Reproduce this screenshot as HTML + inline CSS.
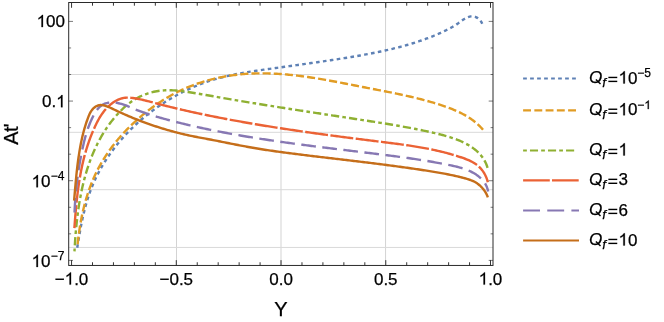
<!DOCTYPE html>
<html><head><meta charset="utf-8"><title>plot</title>
<style>html,body{margin:0;padding:0;background:#fff;}svg{display:block;will-change:transform;}text{font-family:"Liberation Sans",sans-serif;fill:#000;stroke:#000;stroke-width:0.25px;}</style></head><body>
<svg width="664" height="322" viewBox="0 0 664 322">
<rect x="0" y="0" width="664" height="322" fill="#fff"/>
<g stroke-width="1" fill="none">
<line x1="176.50" y1="2.5" x2="176.50" y2="265.45" stroke="#d3d3d3"/>
<line x1="281.00" y1="2.5" x2="281.00" y2="265.45" stroke="#d3d3d3"/>
<line x1="385.55" y1="2.5" x2="385.55" y2="265.45" stroke="#d3d3d3"/>
<line x1="68.7" y1="74.5" x2="493.0" y2="74.5" stroke="#d9d9d9"/>
<line x1="68.7" y1="132.3" x2="493.0" y2="132.3" stroke="#d9d9d9"/>
<line x1="68.7" y1="189.7" x2="493.0" y2="189.7" stroke="#d9d9d9"/>
<line x1="68.7" y1="247.45" x2="493.0" y2="247.45" stroke="#d9d9d9"/>
</g>
<g fill="none" stroke-width="2.4" stroke-linejoin="round" stroke-linecap="butt">
<path d="M77.15,248.18 L77.39,246.72 L77.63,245.26 L77.87,243.80 L78.11,242.33 L78.36,240.86 L78.61,239.39 L78.86,237.92 L79.11,236.45 L79.36,234.97 L79.62,233.50 L79.89,232.02 L80.16,230.54 L80.43,229.07 L80.71,227.59 L80.99,226.12 L81.28,224.64 L81.57,223.16 L81.87,221.69 L82.18,220.22 L82.49,218.74 L82.81,217.27 L83.14,215.80 L83.48,214.34 L83.83,212.87 L84.18,211.41 L84.54,209.95 L84.92,208.49 L85.30,207.04 L85.69,205.59 L86.09,204.14 L86.51,202.69 L86.93,201.25 L87.37,199.82 L87.82,198.38 L88.28,196.96 L88.75,195.53 L89.23,194.11 L89.73,192.70 L90.24,191.29 L90.77,189.89 L91.31,188.49 L91.86,187.10 L92.42,185.71 L93.00,184.33 L93.60,182.96 L94.20,181.59 L94.82,180.23 L95.45,178.87 L96.10,177.52 L96.75,176.18 L97.42,174.84 L98.10,173.51 L98.80,172.18 L99.51,170.86 L100.22,169.55 L100.95,168.24 L101.70,166.94 L102.45,165.65 L103.22,164.36 L103.99,163.08 L104.78,161.81 L105.58,160.54 L106.39,159.29 L107.21,158.03 L108.05,156.79 L108.89,155.55 L109.74,154.32 L110.61,153.10 L111.48,151.88 L112.37,150.67 L113.26,149.47 L114.17,148.28 L115.08,147.09 L116.01,145.91 L116.94,144.74 L117.89,143.58 L118.84,142.42 L119.81,141.27 L120.78,140.13 L121.76,139.00 L122.75,137.88 L123.75,136.76 L124.76,135.65 L125.78,134.55 L126.81,133.46 L127.85,132.37 L128.89,131.29 L129.94,130.23 L131.00,129.17 L132.07,128.11 L133.15,127.07 L134.24,126.03 L135.33,125.00 L136.44,123.99 L137.55,122.97 L138.66,121.97 L139.79,120.98 L140.92,119.99 L142.06,119.01 L143.21,118.04 L144.36,117.08 L145.53,116.13 L146.69,115.19 L147.87,114.25 L149.05,113.33 L150.24,112.41 L151.44,111.50 L152.64,110.60 L153.85,109.71 L155.07,108.83 L156.29,107.96 L157.51,107.10 L158.75,106.24 L159.99,105.40 L161.23,104.56 L162.49,103.73 L163.74,102.91 L165.01,102.10 L166.27,101.30 L167.55,100.51 L168.83,99.73 L170.11,98.96 L171.41,98.20 L172.70,97.45 L174.00,96.70 L175.31,95.97 L176.62,95.25 L177.94,94.54 L179.26,93.83 L180.59,93.14 L181.92,92.45 L183.26,91.78 L184.60,91.12 L185.95,90.46 L187.30,89.82 L188.65,89.19 L190.01,88.57 L191.38,87.95 L192.75,87.35 L194.12,86.76 L195.50,86.18 L196.88,85.61 L198.27,85.05 L199.66,84.50 L201.05,83.97 L202.45,83.44 L203.86,82.92 L205.26,82.42 L206.67,81.92 L208.09,81.44 L209.51,80.97 L210.93,80.51 L212.35,80.06 L213.78,79.62 L215.21,79.19 L216.65,78.78 L218.09,78.37 L219.53,77.98 L220.98,77.59 L222.43,77.22 L223.88,76.86 L225.33,76.50 L226.79,76.16 L228.25,75.82 L229.71,75.50 L231.17,75.18 L232.64,74.87 L234.11,74.56 L235.58,74.27 L237.05,73.98 L238.53,73.70 L240.01,73.43 L241.48,73.16 L242.96,72.89 L244.44,72.64 L245.93,72.39 L247.41,72.14 L248.90,71.90 L250.38,71.66 L251.87,71.43 L253.36,71.20 L254.84,70.97 L256.33,70.75 L257.82,70.53 L259.31,70.31 L260.80,70.10 L262.29,69.89 L263.78,69.68 L265.27,69.47 L266.76,69.26 L268.25,69.05 L269.74,68.85 L271.23,68.64 L272.72,68.43 L274.21,68.23 L275.70,68.02 L277.19,67.82 L278.67,67.61 L280.16,67.40 L281.65,67.20 L283.13,66.99 L284.62,66.79 L286.10,66.58 L287.59,66.38 L289.07,66.17 L290.56,65.97 L292.04,65.76 L293.53,65.55 L295.01,65.35 L296.49,65.14 L297.98,64.94 L299.46,64.73 L300.94,64.52 L302.43,64.31 L303.91,64.10 L305.39,63.90 L306.87,63.69 L308.36,63.48 L309.84,63.27 L311.32,63.05 L312.80,62.84 L314.28,62.63 L315.76,62.42 L317.24,62.20 L318.72,61.99 L320.21,61.77 L321.69,61.56 L323.17,61.34 L324.65,61.12 L326.13,60.91 L327.61,60.69 L329.09,60.47 L330.57,60.24 L332.05,60.02 L333.53,59.80 L335.01,59.57 L336.49,59.35 L337.97,59.12 L339.45,58.89 L340.93,58.66 L342.41,58.43 L343.89,58.19 L345.37,57.96 L346.85,57.72 L348.33,57.48 L349.81,57.24 L351.29,56.99 L352.77,56.75 L354.25,56.50 L355.72,56.24 L357.20,55.99 L358.68,55.73 L360.16,55.47 L361.63,55.21 L363.11,54.94 L364.58,54.67 L366.06,54.40 L367.53,54.12 L369.01,53.84 L370.48,53.56 L371.95,53.27 L373.43,52.98 L374.90,52.68 L376.37,52.39 L377.84,52.08 L379.31,51.77 L380.78,51.46 L382.25,51.15 L383.71,50.83 L385.18,50.50 L386.65,50.17 L388.11,49.84 L389.58,49.50 L391.04,49.15 L392.50,48.80 L393.96,48.45 L395.42,48.08 L396.88,47.72 L398.34,47.35 L399.79,46.97 L401.25,46.58 L402.70,46.19 L404.15,45.80 L405.60,45.39 L407.04,44.98 L408.48,44.57 L409.92,44.14 L411.36,43.71 L412.80,43.27 L414.23,42.83 L415.66,42.38 L417.09,41.92 L418.51,41.45 L419.93,40.97 L421.35,40.49 L422.76,40.00 L424.17,39.50 L425.57,38.99 L426.98,38.47 L428.38,37.95 L429.77,37.42 L431.16,36.87 L432.55,36.32 L433.93,35.76 L435.31,35.19 L436.68,34.61 L438.05,34.02 L439.41,33.42 L440.77,32.81 L442.12,32.19 L443.47,31.56 L444.82,30.92 L446.15,30.27 L447.49,29.61 L448.81,28.94 L450.14,28.24 L451.45,27.53 L452.76,26.79 L454.06,26.02 L455.36,25.22 L456.65,24.38 L457.94,23.51 L459.22,22.60 L460.49,21.67 L461.77,20.75 L463.05,19.86 L464.33,19.02 L465.63,18.25 L466.94,17.58 L468.26,17.04 L469.61,16.64 L470.97,16.41 L472.35,16.37 L473.73,16.50 L475.09,16.84 L476.41,17.37 L477.68,18.10 L478.87,19.03 L479.98,20.15 L480.98,21.44 L481.85,22.91 L482.57,24.54" stroke="#5E81B5" stroke-dasharray="3.6 3.362" stroke-dashoffset="-0.4"/>
<path d="M77.62,244.40 L77.77,242.92 L77.93,241.45 L78.09,239.97 L78.26,238.49 L78.44,237.01 L78.63,235.53 L78.83,234.05 L79.03,232.57 L79.24,231.09 L79.46,229.61 L79.69,228.13 L79.92,226.65 L80.17,225.17 L80.42,223.70 L80.68,222.22 L80.95,220.74 L81.23,219.27 L81.52,217.80 L81.82,216.33 L82.12,214.86 L82.44,213.39 L82.77,211.92 L83.10,210.46 L83.45,209.00 L83.81,207.54 L84.17,206.09 L84.55,204.63 L84.93,203.18 L85.33,201.74 L85.74,200.29 L86.16,198.85 L86.59,197.42 L87.03,195.99 L87.48,194.56 L87.94,193.13 L88.42,191.72 L88.90,190.30 L89.40,188.89 L89.91,187.48 L90.43,186.08 L90.96,184.69 L91.51,183.30 L92.06,181.91 L92.63,180.53 L93.22,179.16 L93.81,177.79 L94.42,176.43 L95.04,175.07 L95.67,173.72 L96.32,172.38 L96.98,171.05 L97.65,169.72 L98.34,168.39 L99.04,167.08 L99.75,165.77 L100.48,164.47 L101.21,163.18 L101.97,161.89 L102.73,160.61 L103.51,159.34 L104.30,158.07 L105.10,156.81 L105.91,155.56 L106.73,154.32 L107.57,153.08 L108.42,151.85 L109.28,150.63 L110.15,149.42 L111.03,148.21 L111.92,147.01 L112.82,145.82 L113.74,144.64 L114.66,143.46 L115.60,142.29 L116.54,141.13 L117.50,139.98 L118.46,138.84 L119.44,137.70 L120.42,136.57 L121.41,135.45 L122.42,134.33 L123.43,133.22 L124.45,132.13 L125.48,131.03 L126.52,129.95 L127.56,128.88 L128.62,127.81 L129.68,126.75 L130.75,125.70 L131.83,124.66 L132.92,123.62 L134.02,122.60 L135.12,121.58 L136.23,120.57 L137.34,119.57 L138.47,118.58 L139.60,117.59 L140.74,116.62 L141.88,115.65 L143.03,114.69 L144.19,113.74 L145.35,112.79 L146.52,111.86 L147.70,110.94 L148.88,110.02 L150.07,109.11 L151.27,108.22 L152.47,107.33 L153.68,106.45 L154.90,105.58 L156.12,104.73 L157.35,103.88 L158.58,103.04 L159.82,102.21 L161.07,101.40 L162.32,100.59 L163.58,99.80 L164.85,99.01 L166.12,98.24 L167.40,97.48 L168.69,96.73 L169.98,95.99 L171.28,95.26 L172.58,94.55 L173.90,93.84 L175.21,93.15 L176.54,92.47 L177.87,91.80 L179.20,91.15 L180.55,90.51 L181.90,89.88 L183.25,89.26 L184.61,88.65 L185.98,88.06 L187.35,87.47 L188.73,86.90 L190.12,86.34 L191.51,85.80 L192.90,85.26 L194.30,84.74 L195.71,84.23 L197.12,83.73 L198.54,83.25 L199.96,82.77 L201.39,82.31 L202.82,81.86 L204.26,81.43 L205.70,81.00 L207.15,80.59 L208.60,80.18 L210.05,79.79 L211.51,79.41 L212.97,79.05 L214.43,78.69 L215.90,78.35 L217.37,78.02 L218.84,77.70 L220.32,77.39 L221.80,77.09 L223.28,76.81 L224.76,76.54 L226.24,76.28 L227.72,76.03 L229.21,75.79 L230.70,75.56 L232.18,75.34 L233.67,75.14 L235.16,74.95 L236.65,74.77 L238.14,74.60 L239.63,74.44 L241.12,74.29 L242.61,74.15 L244.10,74.03 L245.59,73.92 L247.07,73.81 L248.56,73.72 L250.05,73.64 L251.54,73.56 L253.02,73.50 L254.51,73.45 L256.00,73.41 L257.49,73.38 L258.97,73.35 L260.46,73.34 L261.94,73.34 L263.43,73.34 L264.92,73.36 L266.40,73.38 L267.89,73.41 L269.37,73.45 L270.86,73.50 L272.34,73.56 L273.83,73.62 L275.31,73.69 L276.79,73.78 L278.28,73.86 L279.76,73.96 L281.25,74.06 L282.73,74.17 L284.21,74.29 L285.69,74.42 L287.18,74.55 L288.66,74.69 L290.14,74.83 L291.62,74.98 L293.11,75.14 L294.59,75.31 L296.07,75.48 L297.55,75.65 L299.03,75.83 L300.51,76.02 L301.99,76.21 L303.47,76.41 L304.95,76.61 L306.43,76.82 L307.91,77.03 L309.39,77.25 L310.87,77.47 L312.35,77.70 L313.83,77.93 L315.31,78.16 L316.79,78.40 L318.27,78.64 L319.74,78.89 L321.22,79.14 L322.70,79.39 L324.18,79.65 L325.66,79.91 L327.13,80.17 L328.61,80.43 L330.09,80.70 L331.56,80.97 L333.04,81.24 L334.52,81.52 L335.99,81.79 L337.47,82.07 L338.95,82.35 L340.42,82.63 L341.90,82.92 L343.37,83.20 L344.85,83.49 L346.32,83.77 L347.80,84.06 L349.27,84.35 L350.75,84.64 L352.22,84.93 L353.70,85.22 L355.17,85.51 L356.64,85.80 L358.12,86.09 L359.59,86.38 L361.07,86.67 L362.54,86.96 L364.01,87.25 L365.48,87.53 L366.96,87.82 L368.43,88.11 L369.90,88.39 L371.37,88.68 L372.85,88.96 L374.32,89.24 L375.79,89.53 L377.26,89.81 L378.73,90.10 L380.20,90.38 L381.67,90.67 L383.14,90.95 L384.61,91.24 L386.08,91.53 L387.54,91.82 L389.01,92.11 L390.48,92.41 L391.94,92.70 L393.41,93.00 L394.87,93.30 L396.33,93.60 L397.79,93.90 L399.26,94.21 L400.72,94.52 L402.18,94.84 L403.63,95.15 L405.09,95.47 L406.55,95.80 L408.00,96.13 L409.46,96.46 L410.91,96.79 L412.36,97.13 L413.82,97.48 L415.26,97.83 L416.71,98.18 L418.16,98.54 L419.61,98.91 L421.05,99.28 L422.49,99.66 L423.94,100.04 L425.38,100.43 L426.82,100.82 L428.25,101.22 L429.69,101.63 L431.12,102.04 L432.56,102.46 L433.99,102.89 L435.42,103.33 L436.84,103.77 L438.27,104.22 L439.69,104.68 L441.12,105.14 L442.54,105.61 L443.95,106.10 L445.37,106.59 L446.78,107.09 L448.19,107.60 L449.59,108.13 L450.99,108.67 L452.38,109.22 L453.76,109.78 L455.14,110.36 L456.51,110.96 L457.86,111.57 L459.21,112.20 L460.55,112.85 L461.88,113.52 L463.19,114.21 L464.49,114.91 L465.78,115.64 L467.05,116.40 L468.31,117.17 L469.56,117.97 L470.79,118.80 L472.00,119.65 L473.19,120.53 L474.36,121.43 L475.52,122.37 L476.66,123.33 L477.77,124.32 L478.87,125.34 L479.94,126.40 L480.99,127.48 L482.02,128.60 L483.02,129.76" stroke="#E19C24" stroke-dasharray="8.1 3.064" stroke-dashoffset="0.25"/>
<path d="M74.48,251.34 L74.56,249.89 L74.64,248.43 L74.72,246.97 L74.81,245.50 L74.90,244.04 L75.00,242.57 L75.09,241.10 L75.20,239.62 L75.30,238.14 L75.41,236.66 L75.53,235.18 L75.65,233.70 L75.77,232.22 L75.90,230.73 L76.03,229.24 L76.17,227.75 L76.32,226.26 L76.46,224.77 L76.62,223.28 L76.78,221.79 L76.94,220.29 L77.12,218.80 L77.29,217.30 L77.48,215.81 L77.67,214.32 L77.86,212.82 L78.06,211.33 L78.27,209.83 L78.49,208.34 L78.71,206.85 L78.94,205.35 L79.18,203.86 L79.42,202.37 L79.68,200.88 L79.94,199.39 L80.20,197.91 L80.48,196.42 L80.76,194.94 L81.05,193.46 L81.35,191.98 L81.66,190.50 L81.98,189.02 L82.30,187.55 L82.64,186.08 L82.98,184.61 L83.33,183.15 L83.69,181.69 L84.06,180.23 L84.44,178.77 L84.83,177.32 L85.23,175.87 L85.64,174.43 L86.06,172.98 L86.49,171.55 L86.93,170.11 L87.38,168.68 L87.84,167.26 L88.31,165.84 L88.79,164.42 L89.29,163.01 L89.79,161.60 L90.31,160.20 L90.83,158.80 L91.37,157.41 L91.92,156.03 L92.48,154.65 L93.06,153.27 L93.64,151.90 L94.24,150.54 L94.85,149.18 L95.48,147.83 L96.11,146.49 L96.76,145.15 L97.42,143.82 L98.10,142.49 L98.78,141.17 L99.48,139.86 L100.20,138.56 L100.93,137.26 L101.67,135.97 L102.42,134.69 L103.19,133.42 L103.97,132.15 L104.77,130.89 L105.58,129.64 L106.41,128.40 L107.25,127.17 L108.11,125.94 L108.98,124.73 L109.86,123.52 L110.76,122.32 L111.68,121.13 L112.61,119.95 L113.56,118.78 L114.52,117.62 L115.50,116.47 L116.50,115.33 L117.51,114.20 L118.53,113.08 L119.58,111.97 L120.64,110.87 L121.72,109.80 L122.81,108.74 L123.92,107.70 L125.05,106.68 L126.19,105.68 L127.35,104.71 L128.53,103.76 L129.73,102.85 L130.94,101.96 L132.18,101.10 L133.42,100.28 L134.69,99.49 L135.97,98.73 L137.27,98.00 L138.58,97.30 L139.91,96.64 L141.25,96.01 L142.61,95.41 L143.97,94.84 L145.35,94.31 L146.74,93.81 L148.14,93.34 L149.55,92.90 L150.97,92.50 L152.40,92.12 L153.84,91.79 L155.29,91.48 L156.74,91.21 L158.20,90.97 L159.67,90.76 L161.14,90.59 L162.61,90.44 L164.09,90.34 L165.58,90.26 L167.07,90.22 L168.56,90.21 L170.05,90.22 L171.54,90.26 L173.04,90.33 L174.54,90.42 L176.04,90.53 L177.55,90.66 L179.05,90.81 L180.55,90.98 L182.06,91.16 L183.56,91.36 L185.06,91.57 L186.57,91.79 L188.07,92.01 L189.57,92.25 L191.07,92.49 L192.57,92.74 L194.06,92.99 L195.55,93.24 L197.04,93.49 L198.53,93.74 L200.01,94.00 L201.50,94.25 L202.98,94.51 L204.46,94.76 L205.94,95.02 L207.41,95.28 L208.89,95.53 L210.36,95.79 L211.84,96.05 L213.31,96.30 L214.78,96.56 L216.25,96.82 L217.73,97.08 L219.20,97.33 L220.67,97.59 L222.14,97.84 L223.61,98.10 L225.08,98.35 L226.55,98.61 L228.03,98.86 L229.50,99.11 L230.97,99.36 L232.45,99.61 L233.92,99.86 L235.40,100.11 L236.87,100.36 L238.35,100.61 L239.82,100.86 L241.30,101.11 L242.78,101.35 L244.25,101.60 L245.73,101.84 L247.21,102.09 L248.69,102.33 L250.17,102.58 L251.64,102.82 L253.12,103.06 L254.60,103.30 L256.08,103.54 L257.56,103.78 L259.04,104.02 L260.52,104.26 L262.00,104.50 L263.48,104.74 L264.96,104.98 L266.45,105.22 L267.93,105.46 L269.41,105.69 L270.89,105.93 L272.37,106.16 L273.85,106.40 L275.34,106.64 L276.82,106.87 L278.30,107.10 L279.79,107.34 L281.27,107.57 L282.75,107.80 L284.23,108.04 L285.72,108.27 L287.20,108.50 L288.69,108.73 L290.17,108.96 L291.65,109.20 L293.14,109.43 L294.62,109.66 L296.10,109.89 L297.59,110.12 L299.07,110.35 L300.56,110.58 L302.04,110.81 L303.52,111.03 L305.01,111.26 L306.49,111.49 L307.98,111.72 L309.46,111.95 L310.94,112.17 L312.43,112.40 L313.91,112.63 L315.40,112.86 L316.88,113.08 L318.36,113.31 L319.85,113.54 L321.33,113.76 L322.82,113.99 L324.30,114.22 L325.78,114.44 L327.27,114.67 L328.75,114.89 L330.23,115.12 L331.71,115.34 L333.20,115.57 L334.68,115.80 L336.16,116.02 L337.64,116.25 L339.13,116.47 L340.61,116.70 L342.09,116.92 L343.57,117.15 L345.05,117.37 L346.53,117.60 L348.01,117.82 L349.49,118.05 L350.97,118.28 L352.45,118.50 L353.93,118.73 L355.41,118.95 L356.89,119.18 L358.37,119.40 L359.85,119.63 L361.33,119.85 L362.80,120.08 L364.28,120.31 L365.76,120.53 L367.24,120.76 L368.71,120.99 L370.19,121.22 L371.67,121.44 L373.14,121.67 L374.62,121.90 L376.09,122.13 L377.57,122.36 L379.04,122.60 L380.52,122.83 L381.99,123.07 L383.47,123.30 L384.94,123.54 L386.42,123.78 L387.89,124.02 L389.37,124.27 L390.84,124.51 L392.31,124.76 L393.79,125.01 L395.26,125.26 L396.74,125.51 L398.21,125.77 L399.68,126.03 L401.16,126.29 L402.63,126.55 L404.11,126.82 L405.58,127.08 L407.06,127.36 L408.53,127.63 L410.01,127.91 L411.48,128.19 L412.96,128.47 L414.43,128.76 L415.91,129.05 L417.38,129.34 L418.86,129.64 L420.33,129.94 L421.81,130.25 L423.29,130.56 L424.76,130.87 L426.24,131.19 L427.72,131.51 L429.19,131.84 L430.67,132.17 L432.15,132.50 L433.63,132.84 L435.11,133.19 L436.59,133.54 L438.06,133.89 L439.54,134.26 L441.01,134.63 L442.48,135.01 L443.95,135.40 L445.41,135.81 L446.86,136.22 L448.31,136.65 L449.76,137.10 L451.19,137.56 L452.62,138.03 L454.04,138.52 L455.44,139.03 L456.84,139.56 L458.23,140.11 L459.61,140.68 L460.97,141.27 L462.32,141.88 L463.66,142.52 L464.98,143.19 L466.28,143.87 L467.57,144.59 L468.85,145.33 L470.10,146.10 L471.34,146.90 L472.55,147.73 L473.74,148.60 L474.90,149.50 L476.03,150.43 L477.12,151.40 L478.19,152.40 L479.22,153.45 L480.21,154.53 L481.16,155.66 L482.07,156.82 L482.94,158.03 L483.76,159.29 L484.53,160.59 L485.24,161.93 L485.91,163.33 L486.52,164.77 L487.08,166.27 L487.57,167.82" stroke="#8FB032" stroke-dasharray="3.6 3.16 8.2 3.21" stroke-dashoffset="0.78"/>
<path d="M74.37,228.09 L74.48,226.58 L74.60,225.07 L74.71,223.56 L74.83,222.06 L74.94,220.55 L75.06,219.04 L75.18,217.54 L75.30,216.04 L75.43,214.53 L75.56,213.03 L75.69,211.53 L75.82,210.03 L75.96,208.54 L76.10,207.04 L76.24,205.55 L76.39,204.05 L76.54,202.56 L76.69,201.07 L76.85,199.58 L77.01,198.09 L77.18,196.61 L77.35,195.12 L77.53,193.64 L77.71,192.16 L77.90,190.68 L78.10,189.20 L78.30,187.72 L78.50,186.24 L78.72,184.77 L78.94,183.30 L79.16,181.83 L79.39,180.36 L79.63,178.89 L79.88,177.43 L80.13,175.96 L80.39,174.50 L80.66,173.04 L80.94,171.58 L81.23,170.12 L81.52,168.67 L81.82,167.22 L82.14,165.77 L82.46,164.32 L82.79,162.87 L83.12,161.43 L83.47,159.98 L83.83,158.54 L84.20,157.10 L84.58,155.67 L84.97,154.23 L85.37,152.80 L85.78,151.37 L86.20,149.94 L86.63,148.52 L87.07,147.09 L87.53,145.67 L88.00,144.25 L88.48,142.84 L88.97,141.42 L89.47,140.01 L89.99,138.60 L90.52,137.19 L91.06,135.79 L91.61,134.39 L92.18,132.99 L92.76,131.59 L93.36,130.19 L93.97,128.80 L94.59,127.41 L95.23,126.03 L95.89,124.65 L96.56,123.29 L97.25,121.93 L97.97,120.59 L98.70,119.26 L99.46,117.96 L100.24,116.67 L101.05,115.40 L101.88,114.16 L102.74,112.94 L103.62,111.75 L104.54,110.58 L105.48,109.45 L106.46,108.36 L107.47,107.30 L108.51,106.27 L109.59,105.29 L110.70,104.34 L111.85,103.44 L113.04,102.59 L114.27,101.78 L115.53,101.02 L116.84,100.32 L118.18,99.68 L119.55,99.11 L120.95,98.62 L122.38,98.22 L123.84,97.92 L125.31,97.72 L126.80,97.62 L128.30,97.62 L129.81,97.69 L131.33,97.83 L132.84,98.02 L134.35,98.24 L135.85,98.49 L137.34,98.75 L138.83,99.04 L140.30,99.35 L141.77,99.67 L143.23,100.00 L144.69,100.35 L146.15,100.71 L147.60,101.07 L149.04,101.45 L150.49,101.83 L151.93,102.21 L153.37,102.60 L154.81,102.98 L156.25,103.37 L157.69,103.75 L159.14,104.13 L160.58,104.51 L162.03,104.88 L163.47,105.26 L164.92,105.62 L166.37,105.99 L167.82,106.35 L169.27,106.71 L170.72,107.07 L172.17,107.43 L173.62,107.78 L175.07,108.13 L176.53,108.48 L177.98,108.82 L179.44,109.16 L180.89,109.50 L182.35,109.84 L183.81,110.18 L185.27,110.51 L186.73,110.84 L188.19,111.17 L189.65,111.49 L191.11,111.82 L192.57,112.14 L194.03,112.46 L195.49,112.78 L196.96,113.09 L198.42,113.40 L199.88,113.71 L201.35,114.02 L202.81,114.33 L204.28,114.63 L205.74,114.94 L207.21,115.24 L208.68,115.54 L210.14,115.84 L211.61,116.13 L213.08,116.43 L214.54,116.72 L216.01,117.01 L217.48,117.30 L218.95,117.58 L220.41,117.87 L221.88,118.15 L223.35,118.44 L224.82,118.72 L226.29,118.99 L227.76,119.27 L229.23,119.55 L230.70,119.82 L232.17,120.09 L233.64,120.36 L235.11,120.63 L236.58,120.90 L238.06,121.17 L239.53,121.43 L241.00,121.69 L242.47,121.96 L243.94,122.22 L245.42,122.47 L246.89,122.73 L248.36,122.99 L249.84,123.24 L251.31,123.49 L252.78,123.75 L254.26,124.00 L255.73,124.25 L257.21,124.49 L258.68,124.74 L260.16,124.98 L261.63,125.23 L263.11,125.47 L264.58,125.71 L266.06,125.95 L267.54,126.19 L269.01,126.43 L270.49,126.66 L271.97,126.90 L273.44,127.13 L274.92,127.36 L276.40,127.59 L277.87,127.82 L279.35,128.05 L280.83,128.28 L282.31,128.51 L283.79,128.73 L285.26,128.96 L286.74,129.18 L288.22,129.40 L289.70,129.62 L291.18,129.84 L292.66,130.06 L294.14,130.28 L295.62,130.50 L297.10,130.71 L298.58,130.93 L300.06,131.14 L301.54,131.36 L303.02,131.57 L304.50,131.78 L305.98,131.99 L307.46,132.20 L308.94,132.41 L310.42,132.62 L311.90,132.83 L313.39,133.03 L314.87,133.24 L316.35,133.44 L317.83,133.65 L319.31,133.85 L320.79,134.05 L322.28,134.26 L323.76,134.46 L325.24,134.66 L326.72,134.86 L328.21,135.06 L329.69,135.25 L331.17,135.45 L332.66,135.65 L334.14,135.85 L335.62,136.04 L337.11,136.24 L338.59,136.43 L340.07,136.63 L341.56,136.82 L343.04,137.01 L344.52,137.20 L346.01,137.40 L347.49,137.59 L348.98,137.78 L350.46,137.97 L351.95,138.16 L353.43,138.35 L354.91,138.54 L356.40,138.73 L357.88,138.92 L359.37,139.10 L360.85,139.29 L362.34,139.48 L363.82,139.67 L365.31,139.85 L366.79,140.04 L368.28,140.23 L369.76,140.41 L371.25,140.60 L372.73,140.78 L374.22,140.97 L375.70,141.15 L377.19,141.34 L378.68,141.52 L380.16,141.70 L381.65,141.89 L383.13,142.07 L384.62,142.26 L386.10,142.44 L387.59,142.63 L389.07,142.82 L390.56,143.00 L392.04,143.19 L393.53,143.38 L395.01,143.58 L396.49,143.77 L397.98,143.97 L399.46,144.17 L400.94,144.37 L402.42,144.58 L403.90,144.78 L405.38,144.99 L406.86,145.21 L408.34,145.42 L409.82,145.65 L411.30,145.87 L412.78,146.10 L414.25,146.33 L415.73,146.57 L417.20,146.81 L418.67,147.06 L420.15,147.32 L421.62,147.57 L423.09,147.84 L424.55,148.11 L426.02,148.38 L427.49,148.66 L428.95,148.95 L430.42,149.24 L431.88,149.54 L433.34,149.85 L434.80,150.17 L436.26,150.49 L437.72,150.82 L439.17,151.15 L440.62,151.50 L442.08,151.85 L443.53,152.21 L444.98,152.58 L446.42,152.96 L447.87,153.35 L449.31,153.74 L450.75,154.15 L452.19,154.56 L453.63,154.98 L455.07,155.42 L456.50,155.86 L457.93,156.32 L459.36,156.78 L460.79,157.25 L462.21,157.74 L463.64,158.24 L465.05,158.75 L466.45,159.29 L467.85,159.85 L469.22,160.44 L470.57,161.07 L471.89,161.74 L473.19,162.45 L474.46,163.20 L475.69,164.01 L476.88,164.88 L478.02,165.80 L479.13,166.80 L480.18,167.85 L481.18,168.97 L482.12,170.15 L483.01,171.37 L483.84,172.64 L484.61,173.95 L485.32,175.29 L485.96,176.66 L486.54,178.06 L487.04,179.47 L487.47,180.90 L487.83,182.33" stroke="#EB6235" stroke-dasharray="23.0 2.479" stroke-dashoffset="0.0"/>
<path d="M74.54,212.49 L74.61,211.00 L74.67,209.51 L74.75,208.02 L74.83,206.53 L74.91,205.03 L75.00,203.54 L75.10,202.04 L75.20,200.55 L75.31,199.05 L75.43,197.56 L75.55,196.06 L75.67,194.56 L75.81,193.07 L75.94,191.57 L76.09,190.08 L76.24,188.58 L76.39,187.08 L76.56,185.59 L76.72,184.09 L76.90,182.60 L77.08,181.11 L77.26,179.61 L77.45,178.12 L77.65,176.63 L77.86,175.14 L78.06,173.65 L78.28,172.16 L78.50,170.67 L78.73,169.19 L78.96,167.70 L79.20,166.22 L79.44,164.74 L79.69,163.26 L79.95,161.78 L80.21,160.31 L80.48,158.83 L80.75,157.36 L81.03,155.89 L81.32,154.42 L81.61,152.96 L81.91,151.50 L82.21,150.04 L82.52,148.58 L82.84,147.12 L83.16,145.67 L83.49,144.22 L83.83,142.77 L84.18,141.33 L84.54,139.89 L84.92,138.45 L85.30,137.01 L85.71,135.58 L86.12,134.15 L86.56,132.72 L87.01,131.29 L87.48,129.87 L87.96,128.45 L88.47,127.03 L89.00,125.61 L89.55,124.20 L90.12,122.79 L90.72,121.38 L91.35,119.98 L92.00,118.58 L92.67,117.18 L93.38,115.79 L94.12,114.42 L94.89,113.07 L95.71,111.77 L96.57,110.51 L97.47,109.32 L98.43,108.19 L99.44,107.15 L100.52,106.19 L101.65,105.34 L102.85,104.60 L104.11,103.97 L105.44,103.47 L106.81,103.07 L108.23,102.78 L109.68,102.59 L111.15,102.49 L112.64,102.48 L114.13,102.55 L115.61,102.70 L117.09,102.92 L118.55,103.21 L120.01,103.55 L121.45,103.95 L122.89,104.40 L124.32,104.88 L125.74,105.40 L127.16,105.95 L128.58,106.52 L129.99,107.11 L131.40,107.70 L132.81,108.30 L134.22,108.89 L135.62,109.48 L137.03,110.05 L138.44,110.61 L139.86,111.15 L141.27,111.68 L142.69,112.20 L144.10,112.70 L145.52,113.19 L146.94,113.67 L148.36,114.14 L149.79,114.60 L151.21,115.05 L152.63,115.49 L154.06,115.93 L155.49,116.36 L156.92,116.78 L158.35,117.19 L159.79,117.60 L161.22,118.00 L162.66,118.40 L164.09,118.80 L165.53,119.19 L166.97,119.58 L168.42,119.97 L169.86,120.35 L171.31,120.74 L172.75,121.11 L174.20,121.49 L175.65,121.86 L177.10,122.23 L178.55,122.59 L180.00,122.95 L181.46,123.31 L182.91,123.67 L184.37,124.02 L185.82,124.37 L187.28,124.71 L188.74,125.06 L190.20,125.40 L191.66,125.74 L193.12,126.07 L194.59,126.40 L196.05,126.73 L197.51,127.06 L198.98,127.38 L200.45,127.71 L201.91,128.02 L203.38,128.34 L204.85,128.65 L206.32,128.96 L207.79,129.27 L209.26,129.58 L210.73,129.88 L212.20,130.18 L213.67,130.48 L215.14,130.78 L216.61,131.07 L218.09,131.36 L219.56,131.65 L221.03,131.93 L222.51,132.22 L223.98,132.50 L225.46,132.78 L226.93,133.05 L228.41,133.33 L229.88,133.60 L231.36,133.87 L232.83,134.14 L234.31,134.40 L235.79,134.67 L237.27,134.93 L238.74,135.19 L240.22,135.45 L241.70,135.70 L243.18,135.96 L244.66,136.21 L246.14,136.46 L247.62,136.70 L249.10,136.95 L250.58,137.19 L252.06,137.44 L253.54,137.68 L255.02,137.92 L256.50,138.15 L257.98,138.39 L259.46,138.62 L260.94,138.85 L262.43,139.08 L263.91,139.31 L265.39,139.54 L266.87,139.76 L268.36,139.99 L269.84,140.21 L271.32,140.43 L272.81,140.65 L274.29,140.87 L275.78,141.09 L277.26,141.30 L278.74,141.52 L280.23,141.73 L281.71,141.94 L283.20,142.15 L284.68,142.36 L286.17,142.57 L287.66,142.77 L289.14,142.98 L290.63,143.18 L292.11,143.39 L293.60,143.59 L295.09,143.79 L296.57,143.99 L298.06,144.19 L299.55,144.39 L301.03,144.58 L302.52,144.78 L304.01,144.97 L305.49,145.17 L306.98,145.36 L308.47,145.55 L309.96,145.75 L311.44,145.94 L312.93,146.13 L314.42,146.32 L315.91,146.50 L317.40,146.69 L318.88,146.88 L320.37,147.07 L321.86,147.25 L323.35,147.44 L324.84,147.62 L326.32,147.81 L327.81,147.99 L329.30,148.18 L330.79,148.36 L332.28,148.54 L333.77,148.73 L335.26,148.91 L336.74,149.09 L338.23,149.27 L339.72,149.45 L341.21,149.63 L342.70,149.81 L344.19,149.99 L345.67,150.17 L347.16,150.35 L348.65,150.53 L350.14,150.71 L351.63,150.89 L353.12,151.07 L354.60,151.25 L356.09,151.43 L357.58,151.61 L359.07,151.79 L360.56,151.97 L362.05,152.15 L363.53,152.33 L365.02,152.52 L366.51,152.70 L368.00,152.88 L369.48,153.06 L370.97,153.24 L372.46,153.42 L373.95,153.60 L375.43,153.79 L376.92,153.97 L378.41,154.15 L379.89,154.34 L381.38,154.52 L382.87,154.71 L384.35,154.89 L385.84,155.08 L387.33,155.27 L388.81,155.46 L390.30,155.65 L391.79,155.84 L393.27,156.04 L394.76,156.23 L396.24,156.43 L397.73,156.62 L399.21,156.82 L400.70,157.03 L402.18,157.23 L403.67,157.43 L405.15,157.64 L406.64,157.85 L408.12,158.06 L409.61,158.27 L411.09,158.49 L412.57,158.71 L414.06,158.93 L415.54,159.15 L417.02,159.38 L418.51,159.60 L419.99,159.83 L421.47,160.07 L422.96,160.30 L424.44,160.54 L425.92,160.78 L427.40,161.03 L428.89,161.28 L430.37,161.53 L431.85,161.79 L433.33,162.04 L434.81,162.31 L436.29,162.57 L437.77,162.84 L439.26,163.11 L440.74,163.39 L442.22,163.67 L443.70,163.96 L445.18,164.24 L446.66,164.54 L448.14,164.83 L449.62,165.13 L451.09,165.44 L452.57,165.76 L454.04,166.08 L455.51,166.42 L456.97,166.78 L458.43,167.15 L459.87,167.54 L461.31,167.95 L462.74,168.39 L464.16,168.85 L465.56,169.35 L466.95,169.87 L468.32,170.43 L469.68,171.02 L471.02,171.65 L472.34,172.33 L473.64,173.04 L474.92,173.80 L476.17,174.61 L477.39,175.46 L478.58,176.37 L479.73,177.32 L480.83,178.33 L481.87,179.38 L482.86,180.49 L483.79,181.65 L484.66,182.87 L485.45,184.14 L486.16,185.48 L486.79,186.86 L487.33,188.31 L487.77,189.82 L488.12,191.39" stroke="#8778B3" stroke-dasharray="14.7 6.5" stroke-dashoffset="0.0"/>
<path d="M74.12,200.58 L74.25,199.11 L74.37,197.63 L74.50,196.15 L74.62,194.67 L74.75,193.19 L74.88,191.70 L75.00,190.21 L75.13,188.72 L75.26,187.23 L75.39,185.73 L75.53,184.24 L75.66,182.74 L75.80,181.24 L75.94,179.74 L76.09,178.24 L76.23,176.74 L76.38,175.24 L76.54,173.74 L76.70,172.24 L76.86,170.74 L77.03,169.24 L77.20,167.74 L77.37,166.25 L77.56,164.75 L77.74,163.26 L77.94,161.76 L78.13,160.27 L78.34,158.78 L78.55,157.29 L78.77,155.81 L78.99,154.33 L79.23,152.85 L79.46,151.37 L79.71,149.90 L79.97,148.43 L80.23,146.96 L80.50,145.50 L80.78,144.04 L81.07,142.58 L81.37,141.13 L81.68,139.69 L82.00,138.24 L82.33,136.80 L82.67,135.36 L83.03,133.93 L83.40,132.49 L83.78,131.06 L84.17,129.62 L84.58,128.19 L85.01,126.75 L85.45,125.31 L85.91,123.88 L86.38,122.44 L86.88,120.99 L87.39,119.55 L87.92,118.10 L88.47,116.65 L89.05,115.21 L89.69,113.79 L90.39,112.42 L91.18,111.11 L92.07,109.87 L93.06,108.72 L94.17,107.69 L95.35,106.80 L96.60,106.07 L97.89,105.53 L99.21,105.19 L100.55,105.05 L101.91,105.08 L103.28,105.26 L104.67,105.58 L106.07,106.01 L107.48,106.53 L108.89,107.12 L110.31,107.76 L111.73,108.43 L113.14,109.11 L114.55,109.78 L115.95,110.45 L117.35,111.10 L118.75,111.75 L120.14,112.39 L121.53,113.02 L122.92,113.64 L124.30,114.26 L125.68,114.86 L127.06,115.46 L128.44,116.05 L129.82,116.64 L131.19,117.21 L132.57,117.78 L133.94,118.35 L135.32,118.90 L136.69,119.45 L138.07,119.99 L139.45,120.53 L140.83,121.06 L142.21,121.58 L143.59,122.10 L144.97,122.61 L146.36,123.11 L147.75,123.61 L149.14,124.10 L150.54,124.59 L151.94,125.07 L153.35,125.55 L154.76,126.02 L156.18,126.49 L157.60,126.96 L159.02,127.41 L160.45,127.87 L161.89,128.31 L163.33,128.76 L164.77,129.19 L166.22,129.62 L167.67,130.05 L169.12,130.47 L170.58,130.88 L172.04,131.28 L173.50,131.68 L174.96,132.07 L176.42,132.46 L177.89,132.84 L179.35,133.20 L180.82,133.57 L182.29,133.92 L183.75,134.26 L185.22,134.60 L186.69,134.93 L188.15,135.25 L189.62,135.56 L191.08,135.87 L192.55,136.16 L194.01,136.46 L195.47,136.74 L196.93,137.03 L198.40,137.31 L199.86,137.58 L201.32,137.86 L202.79,138.13 L204.25,138.41 L205.71,138.68 L207.18,138.96 L208.64,139.23 L210.10,139.51 L211.57,139.79 L213.04,140.08 L214.50,140.36 L215.97,140.65 L217.44,140.94 L218.91,141.23 L220.38,141.52 L221.84,141.82 L223.31,142.11 L224.79,142.41 L226.26,142.70 L227.73,142.99 L229.20,143.29 L230.67,143.58 L232.14,143.88 L233.62,144.17 L235.09,144.46 L236.57,144.75 L238.04,145.04 L239.52,145.32 L240.99,145.61 L242.47,145.89 L243.94,146.17 L245.42,146.44 L246.90,146.72 L248.37,146.99 L249.85,147.25 L251.33,147.52 L252.80,147.77 L254.28,148.03 L255.76,148.28 L257.24,148.53 L258.72,148.77 L260.20,149.01 L261.68,149.25 L263.16,149.48 L264.64,149.71 L266.12,149.94 L267.60,150.16 L269.08,150.38 L270.56,150.60 L272.04,150.81 L273.52,151.03 L275.00,151.24 L276.49,151.45 L277.97,151.65 L279.45,151.86 L280.93,152.06 L282.42,152.26 L283.90,152.46 L285.38,152.65 L286.87,152.85 L288.35,153.04 L289.84,153.23 L291.32,153.42 L292.81,153.61 L294.29,153.80 L295.78,153.99 L297.26,154.18 L298.75,154.36 L300.24,154.55 L301.72,154.73 L303.21,154.92 L304.70,155.10 L306.18,155.28 L307.67,155.47 L309.16,155.65 L310.64,155.83 L312.13,156.01 L313.62,156.19 L315.11,156.37 L316.60,156.54 L318.08,156.72 L319.57,156.90 L321.06,157.08 L322.55,157.25 L324.04,157.43 L325.53,157.60 L327.02,157.78 L328.50,157.96 L329.99,158.13 L331.48,158.31 L332.97,158.48 L334.46,158.66 L335.95,158.83 L337.44,159.01 L338.93,159.18 L340.42,159.36 L341.90,159.53 L343.39,159.71 L344.88,159.88 L346.37,160.06 L347.86,160.23 L349.35,160.41 L350.84,160.59 L352.33,160.76 L353.81,160.94 L355.30,161.12 L356.79,161.29 L358.28,161.47 L359.77,161.65 L361.26,161.83 L362.74,162.01 L364.23,162.19 L365.72,162.37 L367.21,162.55 L368.69,162.74 L370.18,162.92 L371.67,163.10 L373.15,163.29 L374.64,163.47 L376.13,163.66 L377.61,163.85 L379.10,164.04 L380.58,164.22 L382.07,164.41 L383.55,164.61 L385.04,164.80 L386.52,164.99 L388.01,165.19 L389.49,165.38 L390.98,165.58 L392.46,165.77 L393.95,165.97 L395.43,166.17 L396.91,166.37 L398.40,166.57 L399.88,166.78 L401.36,166.98 L402.85,167.19 L404.33,167.39 L405.81,167.60 L407.30,167.81 L408.78,168.02 L410.26,168.23 L411.75,168.44 L413.23,168.66 L414.71,168.87 L416.20,169.09 L417.68,169.31 L419.16,169.52 L420.65,169.75 L422.13,169.97 L423.61,170.19 L425.09,170.42 L426.58,170.64 L428.06,170.87 L429.54,171.11 L431.02,171.34 L432.50,171.58 L433.98,171.83 L435.46,172.08 L436.94,172.33 L438.42,172.58 L439.90,172.84 L441.37,173.11 L442.85,173.38 L444.32,173.66 L445.79,173.94 L447.26,174.23 L448.73,174.52 L450.20,174.82 L451.66,175.13 L453.13,175.44 L454.59,175.76 L456.05,176.09 L457.51,176.43 L458.97,176.78 L460.42,177.13 L461.87,177.49 L463.32,177.87 L464.77,178.25 L466.22,178.64 L467.65,179.06 L469.07,179.51 L470.48,180.00 L471.86,180.54 L473.22,181.13 L474.55,181.80 L475.84,182.53 L477.10,183.35 L478.32,184.25 L479.49,185.21 L480.62,186.23 L481.69,187.31 L482.71,188.44 L483.67,189.62 L484.56,190.83 L485.39,192.09 L486.13,193.38 L486.80,194.71 L487.37,196.07 L487.84,197.46" stroke="#C56E1A"/>
</g>
<rect x="68.7" y="2.5" width="424.3" height="262.95" stroke="#2a2a2a" stroke-width="1" fill="none"/>
<g stroke="#2a2a2a" stroke-width="0.95" fill="none" stroke-linecap="butt">
<line x1="71.55" y1="265.45" x2="71.55" y2="260.15"/>
<line x1="71.55" y1="2.5" x2="71.55" y2="7.8"/>
<line x1="92.50" y1="265.45" x2="92.50" y2="262.25"/>
<line x1="92.50" y1="2.5" x2="92.50" y2="5.7"/>
<line x1="113.44" y1="265.45" x2="113.44" y2="262.25"/>
<line x1="113.44" y1="2.5" x2="113.44" y2="5.7"/>
<line x1="134.39" y1="265.45" x2="134.39" y2="262.25"/>
<line x1="134.39" y1="2.5" x2="134.39" y2="5.7"/>
<line x1="155.34" y1="265.45" x2="155.34" y2="262.25"/>
<line x1="155.34" y1="2.5" x2="155.34" y2="5.7"/>
<line x1="176.29" y1="265.45" x2="176.29" y2="260.15"/>
<line x1="176.29" y1="2.5" x2="176.29" y2="7.8"/>
<line x1="197.24" y1="265.45" x2="197.24" y2="262.25"/>
<line x1="197.24" y1="2.5" x2="197.24" y2="5.7"/>
<line x1="218.18" y1="265.45" x2="218.18" y2="262.25"/>
<line x1="218.18" y1="2.5" x2="218.18" y2="5.7"/>
<line x1="239.13" y1="265.45" x2="239.13" y2="262.25"/>
<line x1="239.13" y1="2.5" x2="239.13" y2="5.7"/>
<line x1="260.08" y1="265.45" x2="260.08" y2="262.25"/>
<line x1="260.08" y1="2.5" x2="260.08" y2="5.7"/>
<line x1="281.02" y1="265.45" x2="281.02" y2="260.15"/>
<line x1="281.02" y1="2.5" x2="281.02" y2="7.8"/>
<line x1="301.97" y1="265.45" x2="301.97" y2="262.25"/>
<line x1="301.97" y1="2.5" x2="301.97" y2="5.7"/>
<line x1="322.92" y1="265.45" x2="322.92" y2="262.25"/>
<line x1="322.92" y1="2.5" x2="322.92" y2="5.7"/>
<line x1="343.87" y1="265.45" x2="343.87" y2="262.25"/>
<line x1="343.87" y1="2.5" x2="343.87" y2="5.7"/>
<line x1="364.82" y1="265.45" x2="364.82" y2="262.25"/>
<line x1="364.82" y1="2.5" x2="364.82" y2="5.7"/>
<line x1="385.76" y1="265.45" x2="385.76" y2="260.15"/>
<line x1="385.76" y1="2.5" x2="385.76" y2="7.8"/>
<line x1="406.71" y1="265.45" x2="406.71" y2="262.25"/>
<line x1="406.71" y1="2.5" x2="406.71" y2="5.7"/>
<line x1="427.66" y1="265.45" x2="427.66" y2="262.25"/>
<line x1="427.66" y1="2.5" x2="427.66" y2="5.7"/>
<line x1="448.61" y1="265.45" x2="448.61" y2="262.25"/>
<line x1="448.61" y1="2.5" x2="448.61" y2="5.7"/>
<line x1="469.55" y1="265.45" x2="469.55" y2="262.25"/>
<line x1="469.55" y1="2.5" x2="469.55" y2="5.7"/>
<line x1="490.50" y1="265.45" x2="490.50" y2="260.15"/>
<line x1="490.50" y1="2.5" x2="490.50" y2="7.8"/>
</g>
<g stroke="#222" stroke-width="0.6" fill="none" stroke-linecap="butt">
<line x1="68.7" y1="21.40" x2="73.0" y2="21.40"/>
<line x1="493.0" y1="21.40" x2="488.7" y2="21.40"/>
<line x1="68.7" y1="47.96" x2="71.10000000000001" y2="47.96"/>
<line x1="493.0" y1="47.96" x2="490.6" y2="47.96"/>
<line x1="68.7" y1="74.51" x2="71.10000000000001" y2="74.51"/>
<line x1="493.0" y1="74.51" x2="490.6" y2="74.51"/>
<line x1="68.7" y1="101.07" x2="73.0" y2="101.07"/>
<line x1="493.0" y1="101.07" x2="488.7" y2="101.07"/>
<line x1="68.7" y1="127.62" x2="71.10000000000001" y2="127.62"/>
<line x1="493.0" y1="127.62" x2="490.6" y2="127.62"/>
<line x1="68.7" y1="154.18" x2="71.10000000000001" y2="154.18"/>
<line x1="493.0" y1="154.18" x2="490.6" y2="154.18"/>
<line x1="68.7" y1="180.73" x2="73.0" y2="180.73"/>
<line x1="493.0" y1="180.73" x2="488.7" y2="180.73"/>
<line x1="68.7" y1="207.29" x2="71.10000000000001" y2="207.29"/>
<line x1="493.0" y1="207.29" x2="490.6" y2="207.29"/>
<line x1="68.7" y1="233.84" x2="71.10000000000001" y2="233.84"/>
<line x1="493.0" y1="233.84" x2="490.6" y2="233.84"/>
<line x1="68.7" y1="260.40" x2="73.0" y2="260.40"/>
<line x1="493.0" y1="260.40" x2="488.7" y2="260.40"/>
</g>
<text x="54.77" y="284.60" font-size="17">−</text><path d="M763 0H583V1147Q518 1085 412.5 1023T223 930V1104Q374 1175 487 1276T647 1472H763Z" transform="translate(64.70,284.60) scale(0.00830,-0.00830)" fill="#000" stroke="#000" stroke-width="30.1"/><text x="74.15" y="284.60" font-size="17">.0</text>
<text x="159.51" y="284.60" font-size="17">−0.5</text>
<text x="269.21" y="284.60" font-size="17">0.0</text>
<text x="373.95" y="284.60" font-size="17">0.5</text>
<path d="M763 0H583V1147Q518 1085 412.5 1023T223 930V1104Q374 1175 487 1276T647 1472H763Z" transform="translate(478.68,284.60) scale(0.00830,-0.00830)" fill="#000" stroke="#000" stroke-width="30.1"/><text x="488.14" y="284.60" font-size="17">.0</text>
<path d="M763 0H583V1147Q518 1085 412.5 1023T223 930V1104Q374 1175 487 1276T647 1472H763Z" transform="translate(36.64,27.10) scale(0.00830,-0.00830)" fill="#000" stroke="#000" stroke-width="30.1"/><text x="46.09" y="27.10" font-size="17">00</text>
<text x="41.97" y="107.27" font-size="17">0.</text><path d="M763 0H583V1147Q518 1085 412.5 1023T223 930V1104Q374 1175 487 1276T647 1472H763Z" transform="translate(56.15,107.27) scale(0.00830,-0.00830)" fill="#000" stroke="#000" stroke-width="30.1"/>
<path d="M763 0H583V1147Q518 1085 412.5 1023T223 930V1104Q374 1175 487 1276T647 1472H763Z" transform="translate(31.59,187.33) scale(0.00830,-0.00830)" fill="#000" stroke="#000" stroke-width="30.1"/><text x="41.05" y="187.33" font-size="17">0</text>
<text x="50.80" y="180.33" font-size="12">−4</text>
<path d="M763 0H583V1147Q518 1085 412.5 1023T223 930V1104Q374 1175 487 1276T647 1472H763Z" transform="translate(31.59,267.00) scale(0.00830,-0.00830)" fill="#000" stroke="#000" stroke-width="30.1"/><text x="41.05" y="267.00" font-size="17">0</text>
<text x="50.80" y="260.00" font-size="12">−7</text>
<text x="281" y="316" font-size="20" text-anchor="middle">Y</text>
<text transform="translate(18.0,134.4) rotate(-90)" font-size="20" text-anchor="middle" letter-spacing="-0.6">At'</text>
<line x1="523.1" y1="78.5" x2="576.0" y2="78.5" stroke="#5E81B5" stroke-width="2.2" stroke-dasharray="3.75 3.25"/>
<text x="589" y="83.00" font-size="17" font-style="italic">O</text>
<line x1="595.90" y1="79.60" x2="600.50" y2="84.00" stroke="#000" stroke-width="1.45"/>
<text x="602.3" y="86.70" font-size="13.6" font-style="italic">f</text>
<rect x="608.35" y="76.75" width="8.9" height="1.4" fill="#000"/>
<rect x="608.35" y="80.70" width="8.9" height="1.4" fill="#000"/>
<path d="M763 0H583V1147Q518 1085 412.5 1023T223 930V1104Q374 1175 487 1276T647 1472H763Z" transform="translate(618.50,83.50) scale(0.00830,-0.00830)" fill="#000" stroke="#000" stroke-width="30.1"/><text x="627.95" y="83.50" font-size="17">0</text>
<text x="637.30" y="77.30" font-size="12">−5</text>
<line x1="523.1" y1="110.3" x2="576.0" y2="110.3" stroke="#E19C24" stroke-width="2.2" stroke-dasharray="7.9 3.35"/>
<text x="589" y="114.80" font-size="17" font-style="italic">O</text>
<line x1="595.90" y1="111.40" x2="600.50" y2="115.80" stroke="#000" stroke-width="1.45"/>
<text x="602.3" y="118.50" font-size="13.6" font-style="italic">f</text>
<rect x="608.35" y="108.55" width="8.9" height="1.4" fill="#000"/>
<rect x="608.35" y="112.50" width="8.9" height="1.4" fill="#000"/>
<path d="M763 0H583V1147Q518 1085 412.5 1023T223 930V1104Q374 1175 487 1276T647 1472H763Z" transform="translate(618.50,115.30) scale(0.00830,-0.00830)" fill="#000" stroke="#000" stroke-width="30.1"/><text x="627.95" y="115.30" font-size="17">0</text>
<text x="637.30" y="109.10" font-size="12">−</text><path d="M763 0H583V1147Q518 1085 412.5 1023T223 930V1104Q374 1175 487 1276T647 1472H763Z" transform="translate(644.31,109.10) scale(0.00586,-0.00586)" fill="#000" stroke="#000" stroke-width="42.7"/>
<line x1="523.1" y1="150.5" x2="574.4" y2="150.5" stroke="#8FB032" stroke-width="2.2" stroke-dasharray="3.75 3.1 8.1 3.1"/>
<text x="589" y="155.00" font-size="17" font-style="italic">O</text>
<line x1="595.90" y1="151.60" x2="600.50" y2="156.00" stroke="#000" stroke-width="1.45"/>
<text x="602.3" y="158.70" font-size="13.6" font-style="italic">f</text>
<rect x="608.35" y="148.75" width="8.9" height="1.4" fill="#000"/>
<rect x="608.35" y="152.70" width="8.9" height="1.4" fill="#000"/>
<path d="M763 0H583V1147Q518 1085 412.5 1023T223 930V1104Q374 1175 487 1276T647 1472H763Z" transform="translate(618.50,155.50) scale(0.00830,-0.00830)" fill="#000" stroke="#000" stroke-width="30.1"/>
<line x1="523.1" y1="180.4" x2="578.8" y2="180.4" stroke="#EB6235" stroke-width="2.2" stroke-dasharray="26.7 2.2"/>
<text x="589" y="184.90" font-size="17" font-style="italic">O</text>
<line x1="595.90" y1="181.50" x2="600.50" y2="185.90" stroke="#000" stroke-width="1.45"/>
<text x="602.3" y="188.60" font-size="13.6" font-style="italic">f</text>
<rect x="608.35" y="178.65" width="8.9" height="1.4" fill="#000"/>
<rect x="608.35" y="182.60" width="8.9" height="1.4" fill="#000"/>
<text x="618.50" y="185.40" font-size="17">3</text>
<line x1="523.1" y1="210.5" x2="579.0" y2="210.5" stroke="#8778B3" stroke-width="2.2" stroke-dasharray="16.9 7.25"/>
<text x="589" y="215.00" font-size="17" font-style="italic">O</text>
<line x1="595.90" y1="211.60" x2="600.50" y2="216.00" stroke="#000" stroke-width="1.45"/>
<text x="602.3" y="218.70" font-size="13.6" font-style="italic">f</text>
<rect x="608.35" y="208.75" width="8.9" height="1.4" fill="#000"/>
<rect x="608.35" y="212.70" width="8.9" height="1.4" fill="#000"/>
<text x="618.50" y="215.50" font-size="17">6</text>
<line x1="523.1" y1="240.5" x2="579.0" y2="240.5" stroke="#C56E1A" stroke-width="2.2"/>
<text x="589" y="245.00" font-size="17" font-style="italic">O</text>
<line x1="595.90" y1="241.60" x2="600.50" y2="246.00" stroke="#000" stroke-width="1.45"/>
<text x="602.3" y="248.70" font-size="13.6" font-style="italic">f</text>
<rect x="608.35" y="238.75" width="8.9" height="1.4" fill="#000"/>
<rect x="608.35" y="242.70" width="8.9" height="1.4" fill="#000"/>
<path d="M763 0H583V1147Q518 1085 412.5 1023T223 930V1104Q374 1175 487 1276T647 1472H763Z" transform="translate(618.50,245.50) scale(0.00830,-0.00830)" fill="#000" stroke="#000" stroke-width="30.1"/><text x="627.95" y="245.50" font-size="17">0</text>
</svg></body></html>
